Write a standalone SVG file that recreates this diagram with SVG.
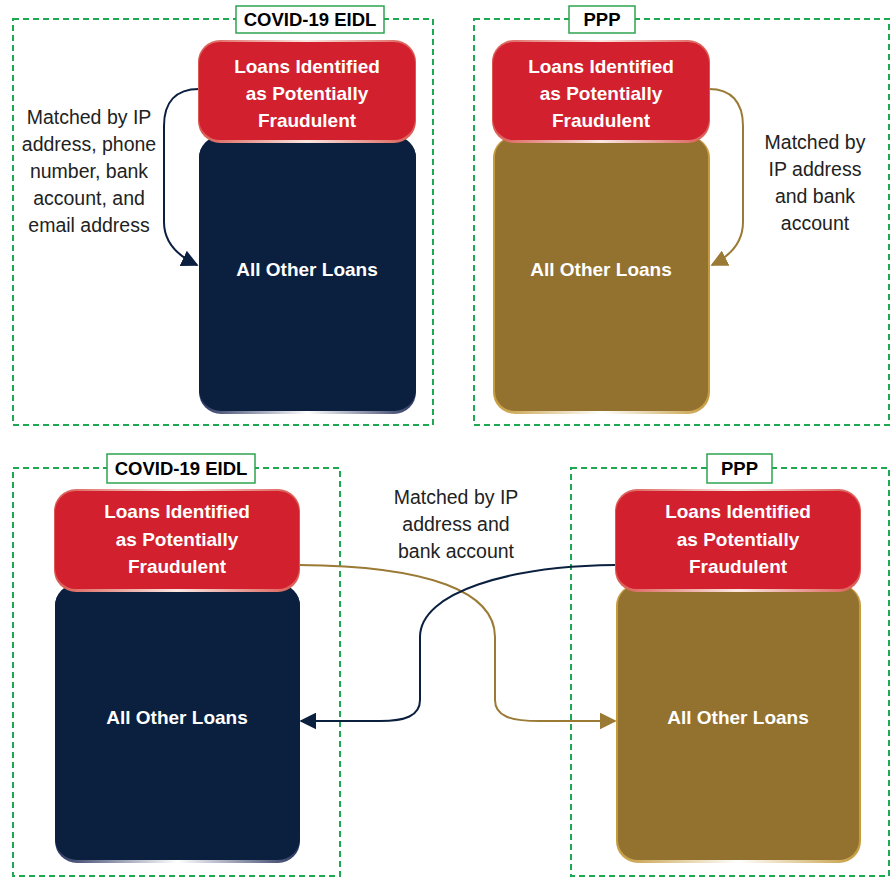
<svg xmlns="http://www.w3.org/2000/svg" width="893" height="878" viewBox="0 0 893 878">
<style>
.frame{fill:none;stroke:#1DA851;stroke-width:2;stroke-dasharray:6 4}
.tbox{fill:#fff;stroke:#2EA44F;stroke-width:1.5}
.ttl{font-family:"Liberation Sans",Arial,sans-serif;font-weight:bold;font-size:18.5px;fill:#000;text-anchor:middle}
.red{fill:#D2202F}
.navy{fill:#0B1F3F}
.gold{fill:#93722F}
.wt{font-family:"Liberation Sans",Arial,sans-serif;font-weight:bold;font-size:19px;fill:#fff;text-anchor:middle}
.lbl{font-family:"Liberation Sans",Arial,sans-serif;font-size:19.5px;fill:#222;text-anchor:middle}
.cn{fill:none;stroke:#0B1F3F;stroke-width:2}
.cg{fill:none;stroke:#9A7A34;stroke-width:2}
</style>
<defs>
<linearGradient id="redRim" x1="0" y1="0" x2="1" y2="0">
<stop offset="0" stop-color="#D9574F"/><stop offset="0.5" stop-color="#FBE7E2"/><stop offset="1" stop-color="#D9574F"/>
</linearGradient>
<linearGradient id="navyRim" x1="0" y1="0" x2="1" y2="0">
<stop offset="0" stop-color="#2A3560"/><stop offset="0.5" stop-color="#FFFFFF"/><stop offset="1" stop-color="#2A3560"/>
</linearGradient>
<linearGradient id="goldRim" x1="0" y1="0" x2="1" y2="0">
<stop offset="0" stop-color="#C49A3C"/><stop offset="0.5" stop-color="#FFFFFF"/><stop offset="1" stop-color="#C49A3C"/>
</linearGradient>
<marker id="an" viewBox="0 0 10 10" refX="9" refY="5" markerUnits="userSpaceOnUse" markerWidth="17" markerHeight="17" orient="auto"><path d="M0,0 L10,5 L0,10 z" fill="#0B1F3F"/></marker>
<marker id="ag" viewBox="0 0 10 10" refX="9" refY="5" markerUnits="userSpaceOnUse" markerWidth="17" markerHeight="17" orient="auto"><path d="M0,0 L10,5 L0,10 z" fill="#9A7A34"/></marker>
</defs>
<rect width="893" height="878" fill="#fff"/>

<!-- frames -->
<g id="frame-tl"><rect class="frame" x="13" y="19" width="420" height="406"/><rect class="tbox" x="236" y="6" width="148" height="27"/><text class="ttl" x="310" y="26">COVID-19 EIDL</text></g>
<g id="frame-tr"><rect class="frame" x="474" y="19" width="415" height="406"/><rect class="tbox" x="569" y="6" width="66" height="27"/><text class="ttl" x="602" y="26">PPP</text></g>
<g id="frame-bl"><rect class="frame" x="13" y="468" width="327" height="408"/><rect class="tbox" x="107" y="454" width="148" height="29"/><text class="ttl" x="181" y="475">COVID-19 EIDL</text></g>
<g id="frame-br"><rect class="frame" x="571" y="468" width="318" height="408"/><rect class="tbox" x="707" y="454" width="65" height="29"/><text class="ttl" x="739.5" y="475">PPP</text></g>

<!-- connectors -->
<g id="connectors">
<path class="cn" d="M199,89 C176,89 164,102 164,126 L164,222 C164,242 178,256 197,265" marker-end="url(#an)"/>
<path class="cg" d="M709,89 C731,89 743,102 743,126 L743,222 C743,242 730,256 712,265" marker-end="url(#ag)"/>
<path class="cg" d="M299,565 C430,566 495,592 495,637 L495,700 C495,716 510,721 540,721 L615,721" marker-end="url(#ag)"/>
<path class="cn" d="M615,565 C510,566 420,592 420,637 L420,700 C420,716 405,721 380,721 L301,721" marker-end="url(#an)"/>
</g>

<!-- labels -->
<g id="label-tl"><text class="lbl" x="89" y="124">Matched by IP</text><text class="lbl" x="89" y="151">address, phone</text><text class="lbl" x="89" y="178">number, bank</text><text class="lbl" x="89" y="205">account, and</text><text class="lbl" x="89" y="232">email address</text></g>
<g id="label-tr"><text class="lbl" x="815" y="149">Matched by</text><text class="lbl" x="815" y="176">IP address</text><text class="lbl" x="815" y="203">and bank</text><text class="lbl" x="815" y="230">account</text></g>
<g id="label-b"><text class="lbl" x="456" y="504">Matched by IP</text><text class="lbl" x="456" y="531">address and</text><text class="lbl" x="456" y="558">bank account</text></g>

<!-- top-left nodes -->
<g id="tl-other"><rect x="199" y="136" width="217" height="278" rx="22" fill="url(#navyRim)"/><rect class="navy" x="199" y="136" width="217" height="275" rx="22"/><text class="wt" x="307" y="276">All Other Loans</text></g>
<g id="tl-fraud"><rect x="198" y="40" width="218" height="103" rx="22" fill="url(#redRim)"/><rect class="red" x="199" y="42" width="216" height="98" rx="21"/><text class="wt" x="307" y="73">Loans Identified</text><text class="wt" x="307" y="100">as Potentially</text><text class="wt" x="307" y="127">Fraudulent</text></g>

<!-- top-right nodes -->
<g id="tr-other"><rect x="493" y="136" width="217" height="278" rx="22" fill="url(#goldRim)"/><rect class="gold" x="495" y="137" width="213" height="274" rx="20"/><text class="wt" x="601" y="276">All Other Loans</text></g>
<g id="tr-fraud"><rect x="492" y="40" width="218" height="103" rx="22" fill="url(#redRim)"/><rect class="red" x="493" y="42" width="216" height="98" rx="21"/><text class="wt" x="601" y="73">Loans Identified</text><text class="wt" x="601" y="100">as Potentially</text><text class="wt" x="601" y="127">Fraudulent</text></g>

<!-- bottom-left nodes -->
<g id="bl-other"><rect x="55" y="584" width="245" height="279" rx="22" fill="url(#navyRim)"/><rect class="navy" x="55" y="584" width="245" height="276" rx="22"/><text class="wt" x="177" y="724">All Other Loans</text></g>
<g id="bl-fraud"><rect x="54" y="489" width="246" height="103" rx="22" fill="url(#redRim)"/><rect class="red" x="55" y="491" width="244" height="98" rx="21"/><text class="wt" x="177" y="518">Loans Identified</text><text class="wt" x="177" y="546">as Potentially</text><text class="wt" x="177" y="573">Fraudulent</text></g>

<!-- bottom-right nodes -->
<g id="br-other"><rect x="616" y="584" width="245" height="279" rx="22" fill="url(#goldRim)"/><rect class="gold" x="618" y="585" width="241" height="275" rx="20"/><text class="wt" x="738" y="724">All Other Loans</text></g>
<g id="br-fraud"><rect x="615" y="489" width="246" height="103" rx="22" fill="url(#redRim)"/><rect class="red" x="616" y="491" width="244" height="98" rx="21"/><text class="wt" x="738" y="518">Loans Identified</text><text class="wt" x="738" y="546">as Potentially</text><text class="wt" x="738" y="573">Fraudulent</text></g>
</svg>
